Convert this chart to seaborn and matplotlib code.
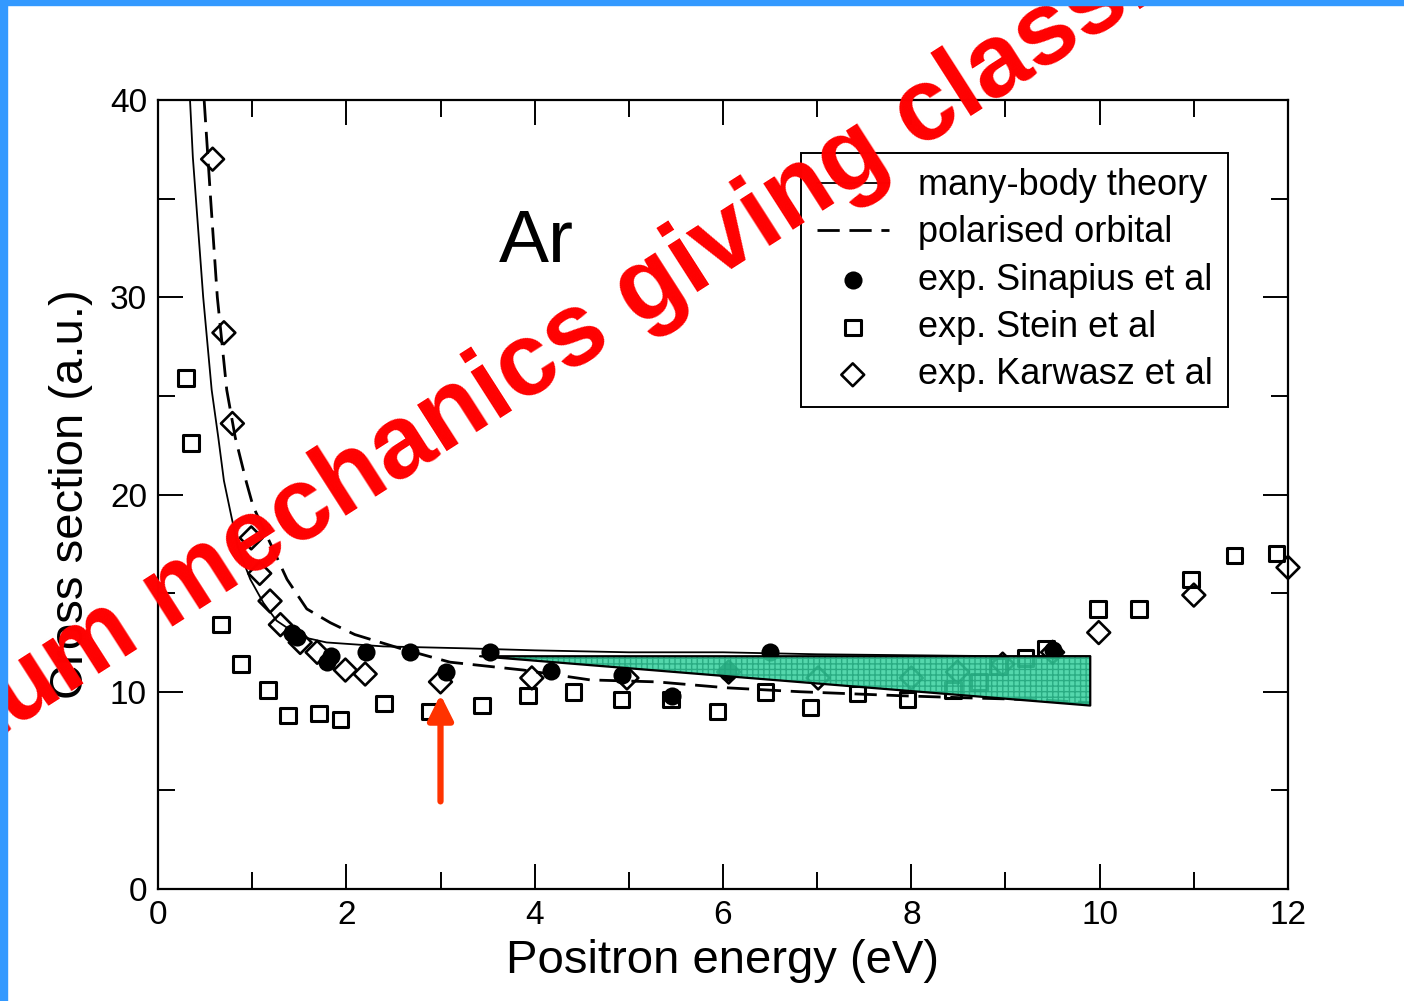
import numpy as np
import pandas as pd
import matplotlib
matplotlib.use("Agg")
import matplotlib.pyplot as plt
from matplotlib.patches import Rectangle
import seaborn as sns

# Teoria: many-body (linha cheia) e polarised orbital (tracejada)
mbt_x = [0.34, 0.37, 0.48, 0.57, 0.64, 0.70, 0.77, 0.85, 0.98, 1.12, 1.26, 1.51, 1.79, 2.39,
         3.28, 4.0, 5.0, 6.0, 7.0, 8.0, 9.0, 9.9]
mbt_y = [40.0, 37.1, 30.0, 25.3, 22.9, 20.7, 19.1, 17.3, 15.7, 14.5, 13.6, 12.8, 12.5, 12.3,
         12.2, 12.1, 12.0, 12.0, 11.9, 11.85, 11.8, 11.8]

po_x = [0.49, 0.56, 0.63, 0.73, 0.82, 0.94, 1.01, 1.37, 1.58, 1.83, 2.09, 2.57, 3.1, 3.88,
        4.59, 5.3, 6.04, 6.82, 7.88, 8.52, 9.29, 9.9]
po_y = [40.0, 34.9, 30.0, 25.3, 22.9, 20.6, 19.4, 15.7, 14.2, 13.5, 12.9, 12.2, 11.5, 11.1,
        10.6, 10.5, 10.2, 10.0, 9.8, 9.7, 9.6, 9.45]

# Experimentos
sinapius_x = [1.42, 1.48, 1.79, 1.84, 2.21, 2.68, 3.06, 3.53, 4.17, 4.93, 5.46, 6.05, 6.50, 9.50]
sinapius_y = [13.0, 12.8, 11.5, 11.8, 12.0, 12.0, 11.0, 12.0, 11.05, 10.85, 9.8, 11.0, 12.0, 12.1]

stein_x = [0.30, 0.35, 0.67, 0.88, 1.17, 1.38, 1.71, 1.94, 2.40, 2.89, 3.44, 3.93, 4.41, 4.92,
           5.45, 5.94, 6.45, 6.93, 7.43, 7.96, 8.44, 8.72, 8.92, 9.21, 9.43, 9.98, 10.42,
           10.97, 11.43, 11.88]
stein_y = [25.9, 22.6, 13.4, 11.4, 10.1, 8.8, 8.9, 8.6, 9.4, 9.0, 9.3, 9.8, 10.0, 9.6,
           9.6, 9.0, 10.0, 9.2, 9.9, 9.6, 10.1, 10.5, 11.3, 11.7, 12.2, 14.2, 14.2,
           15.7, 16.9, 17.0]

karwasz_x = [0.58, 0.70, 0.79, 0.99, 1.08, 1.19, 1.30, 1.51, 1.69, 1.99, 2.20, 3.0, 3.97,
             4.98, 6.06, 7.01, 8.0, 8.49, 8.97, 9.50, 9.99, 11.0, 12.0]
karwasz_y = [37.0, 28.2, 23.6, 17.8, 16.0, 14.6, 13.4, 12.5, 12.0, 11.1, 10.9, 10.5, 10.7,
             10.7, 11.0, 10.7, 10.7, 11.0, 11.4, 12.0, 13.0, 14.9, 16.3]

# Faixa verde (incerteza)
band_x = [3.42, 9.9]
band_upper = [11.8, 11.8]
band_lower = [11.8, 9.3]

# Seta vermelha
arrow_x = 3.0
arrow_y0, arrow_y1 = 4.3, 10.0

sns.set_style("ticks")
plt.rcParams['font.family'] = ['Liberation Sans', 'DejaVu Sans']
plt.rcParams.update({'text.color': 'black', 'axes.labelcolor': 'black',
                     'xtick.color': 'black', 'ytick.color': 'black'})

fig = plt.figure(figsize=(14.04, 10.01), dpi=100)
ax = fig.add_axes([158 / 1404, 1 - 889 / 1001, 1130 / 1404, 789 / 1001])

sns.lineplot(x=mbt_x, y=mbt_y, ax=ax, color='black', lw=1.3, sort=False,
             label='many-body theory')
sns.lineplot(x=po_x, y=po_y, ax=ax, color='black', lw=2.0, sort=False,
             dashes=False, label='polarised orbital')
ax.lines[-1].set_dashes((8, 3.5))

sns.scatterplot(x=sinapius_x, y=sinapius_y, ax=ax, marker='o', s=170, color='black',
                edgecolor='black', linewidth=0, label='exp. Sinapius et al', clip_on=False)
sns.scatterplot(x=stein_x, y=stein_y, ax=ax, marker='s', s=125, facecolor='none',
                edgecolor='black', linewidth=2.2, label='exp. Stein et al', clip_on=False)
sns.scatterplot(x=karwasz_x, y=karwasz_y, ax=ax, marker='D', s=135, facecolor='none',
                edgecolor='black', linewidth=1.9, label='exp. Karwasz et al', clip_on=False)

# faixa verde com textura fina e contorno preto
ax.fill_between(band_x, band_lower, band_upper, facecolor='#36D19E', alpha=0.85,
                edgecolor='#23A57C', linewidth=0, hatch='+++', zorder=5)
ax.fill_between(band_x, band_lower, band_upper, facecolor='none',
                edgecolor='black', linewidth=1.6, zorder=5)

ax.annotate('', xy=(arrow_x, arrow_y1), xytext=(arrow_x, arrow_y0),
            arrowprops=dict(arrowstyle='-|>', color='#FF3300', lw=4.5, mutation_scale=38),
            zorder=6)

ax.text(4.02, 32.8, 'Ar', fontsize=54, ha='center', va='center', color='black')

ax.set_xlim(0, 12)
ax.set_ylim(0, 40)
ax.set_xticks(range(0, 13, 2))
ax.set_xticks(range(1, 12, 2), minor=True)
ax.set_yticks(range(0, 41, 10))
ax.set_yticks(range(5, 40, 10), minor=True)
ax.tick_params(which='both', direction='in', top=True, right=True, width=1.4,
               labelsize=24, color='black', labelcolor='black')
ax.tick_params(which='major', length=18, pad=8)
ax.tick_params(which='minor', length=12)
for sp in ax.spines.values():
    sp.set_linewidth(1.6)
    sp.set_color('black')

ax.set_xlabel('Positron energy (eV)', fontsize=34, labelpad=6)
ax.set_ylabel('Cross section (a.u.)', fontsize=34, labelpad=12)

leg = ax.legend(loc='upper right', bbox_to_anchor=(0.953, 0.942), fontsize=26,
                frameon=True, fancybox=False, framealpha=1, edgecolor='black',
                handlelength=2.0, labelspacing=0.34, borderpad=0.42, handletextpad=0.8,
                borderaxespad=0.2)
leg.get_frame().set_linewidth(1.4)
leg.set_zorder(4)

# moldura azul do slide
fig.add_artist(Rectangle((0, 1 - 5 / 1001), 1, 5 / 1001, transform=fig.transFigure,
                         color='#3399FF', zorder=10))
fig.add_artist(Rectangle((0, 0), 7 / 1404, 1, transform=fig.transFigure,
                         color='#3399FF', zorder=10))

# texto vermelho sobreposto
fig.text(-237 / 1404, 1 - 888 / 1001, 'Quantum mechanics giving classical',
         fontsize=74, fontweight='bold', color='#FF0000', rotation=32.6,
         rotation_mode='anchor', ha='left', va='baseline', zorder=9)

fig.savefig('out.png', dpi=100)
